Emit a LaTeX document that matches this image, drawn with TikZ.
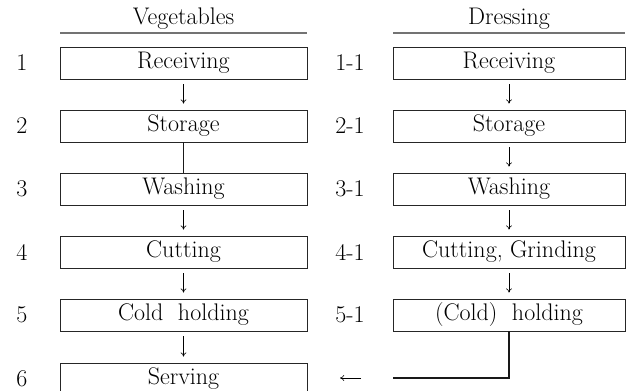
\documentclass[tikz,border=0pt]{standalone}
\usetikzlibrary{positioning,arrows.meta}
\begin{document}
\begin{tikzpicture}[x=0.03cm,y=-0.03cm,
  every node/.style={font=\fontsize{20.5}{24}\selectfont},
  vegbox/.style={draw=black!85,line width=0.8pt,minimum width=7.41cm,minimum height=0.96cm,inner sep=0pt},
  drbox/.style={vegbox,minimum width=6.96cm},
  headrule/.style={black!55,line width=1.3pt},
  flow/.style={-{To[length=3.5pt,width=5pt]},line width=0.5pt,shorten <=0.15cm,shorten >=0.18cm},
  joinline/.style={black!90,line width=1.6pt}]
\useasboundingbox (0,0) rectangle (630,391);
\clip (0,0) rectangle (630,391);
% headings
\node (vegtitle) at (183.5,19) {Vegetables};
\draw[headrule] (60,33) -- (307,33);
\node (drtitle) at (509,19) {Dressing};
\draw[headrule] (393,33) -- (625,33);
% vegetables
\node[vegbox] (veg1) at (183.5,63) {Receiving};
\node[vegbox] (veg2) at (183.5,126) {Storage};
\node[vegbox] (veg3) at (183.5,189) {Washing};
\node[vegbox] (veg4) at (183.5,252) {Cutting};
\node[vegbox] (veg5) at (183.5,315) {Cold\ \ holding};
\node[vegbox] (veg6) at (183.5,379) {Serving};
\node (n1) at (22,63) {1};
\node (n2) at (22,126) {2};
\node (n3) at (22,189) {3};
\node (n4) at (22,252) {4};
\node (n5) at (22,315) {5};
\node (n6) at (22,379) {6};
% dressing
\node[drbox] (dr1) at (509,63) {Receiving};
\node[drbox] (dr2) at (509,126) {Storage};
\node[drbox] (dr3) at (509,189) {Washing};
\node[drbox] (dr4) at (509,252) {Cutting,\ Grinding};
\node[drbox] (dr5) at (509,315) {(Cold)\ \ holding};
\node (m1) at (350,63) {1-1};
\node (m2) at (350,126) {2-1};
\node (m3) at (350,189) {3-1};
\node (m4) at (350,252) {4-1};
\node (m5) at (350,315) {5-1};
% flow
\draw[flow] (veg1) -- (veg2);
\draw[joinline] (veg2) -- (veg3);
\draw[flow] (veg3) -- (veg4);
\draw[flow] (veg4) -- (veg5);
\draw[flow] (veg5) -- (veg6);
\draw[flow] (dr1) -- (dr2);
\draw[flow] (dr2) -- (dr3);
\draw[flow] (dr3) -- (dr4);
\draw[flow] (dr4) -- (dr5);
\coordinate (merge) at (393,378);
\draw[joinline] (dr5.south) |- (merge);
\coordinate (backstart) at (361,378);
\coordinate (backend) at (340,378);
\draw[flow,shorten <=0pt,shorten >=0pt] (backstart) -- (backend);
\end{tikzpicture}
\end{document}
